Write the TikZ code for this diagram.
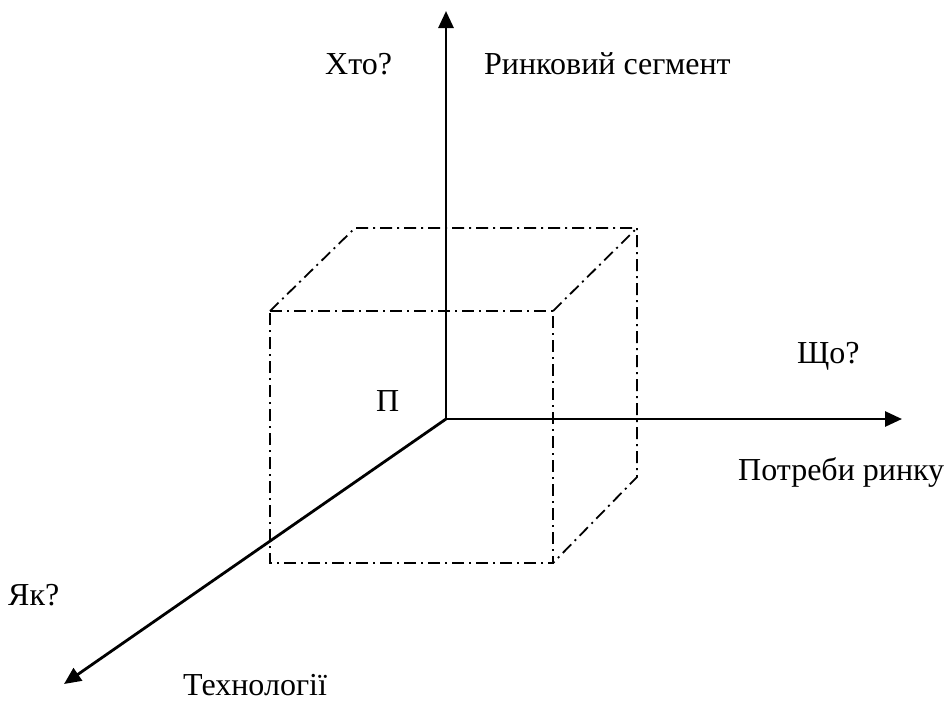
\documentclass[tikz,border=0pt]{standalone}
\usepackage{fontspec}
\setmainfont{Liberation Serif}
\usetikzlibrary{arrows.meta,positioning}

\begin{document}
\begin{tikzpicture}[
  x=1pt, y=-1pt,
  axis/.style={line width=2.8pt, -{Triangle[length=17pt, width=15pt]}},
  edge/.style={line width=1.8pt, dash pattern=on 12pt off 5pt on 2pt off 5pt},
  lbl/.style={inner sep=0pt, anchor=base west, font=\fontsize{32}{36}\selectfont},
]
  \useasboundingbox (0,0) rectangle (950,702);

  % -- Axes --
  \coordinate (O) at (446,419);
  \coordinate (up) at (446,11);
  \coordinate (right) at (902,419);
  \coordinate (down) at (64,684);

  % -- Cube corners --
  \coordinate (ftl) at (270,311);
  \coordinate (ftr) at (553,311);
  \coordinate (fbl) at (270,563);
  \coordinate (fbr) at (553,563);
  \coordinate (btl) at (355,228);
  \coordinate (btr) at (637,228);
  \coordinate (bbr) at (637,477);

  % Cube
  \draw[edge] (ftl) -- (ftr) -- (fbr) -- (fbl) -- cycle;
  \draw[edge] (ftl) -- (btl) -- (btr) -- (bbr) -- (fbr);
  \draw[edge] (ftr) -- (btr);

  \draw[axis] (O) -- (up);
  \draw[axis] (O) -- (right);
  \draw[axis] (O) -- (down);

  % Labels
  \node[lbl] (who) at (325,74) {Хто?};
  \node[lbl] (segment) at (484,74) {Ринковий сегмент};
  \node[lbl] (what) at (797,363) {Що?};
  \node[lbl] (needs) at (738,480) {Потреби ринку};
  \node[lbl] (p) at (376,411) {П};
  \node[lbl] (how) at (8,605) {Як?};
  \node[lbl] (tech) at (183,695) {Технології};

\end{tikzpicture}
\end{document}
